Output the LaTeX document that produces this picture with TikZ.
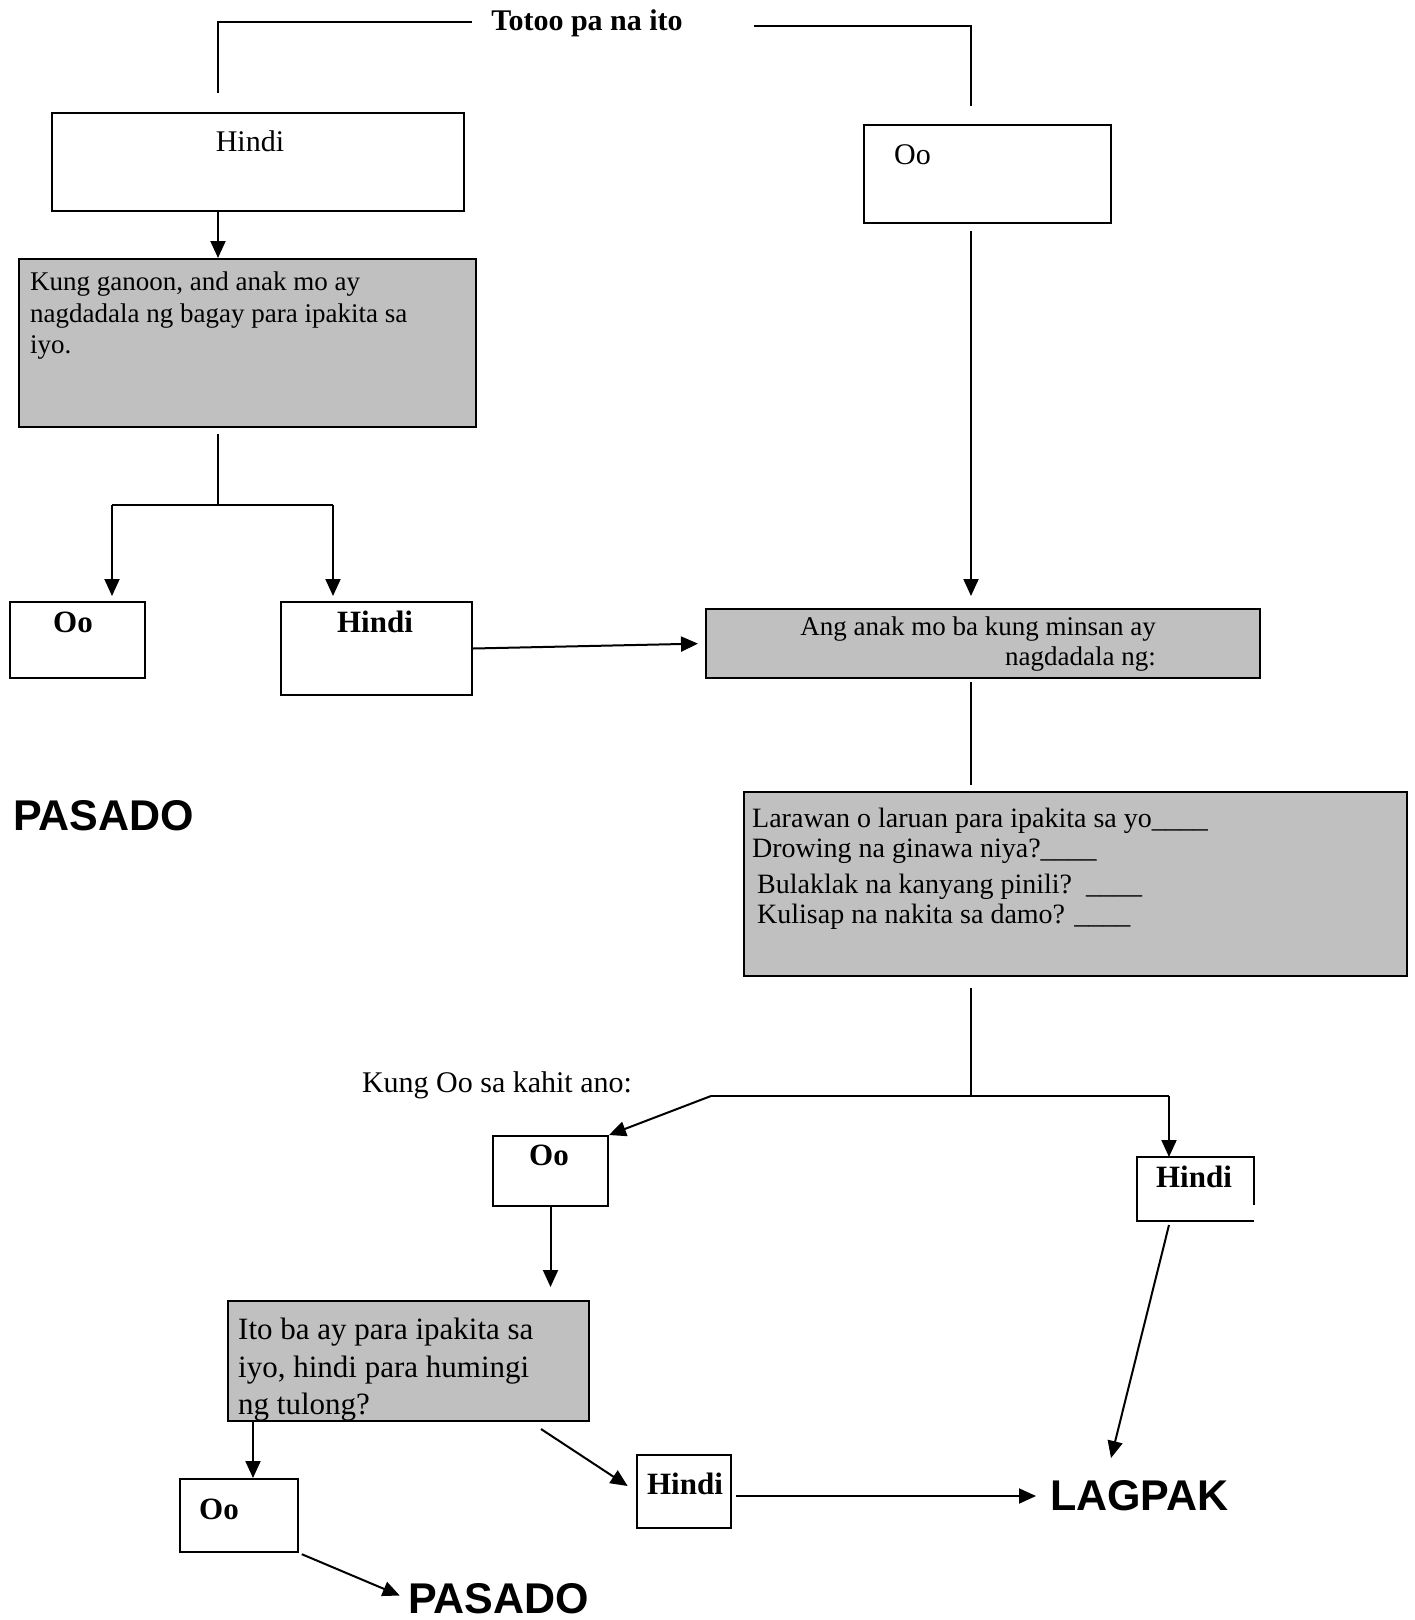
\documentclass[tikz,border=0pt]{standalone}
\usepackage{fontspec}
\setmainfont{Liberation Serif}
\setsansfont{Liberation Sans}
\usetikzlibrary{arrows.meta}
\definecolor{boxgray}{HTML}{C0C0C0}
\tikzset{
  box/.style={draw,line width=2pt,anchor=north west,inner sep=0pt},
  qbox/.style={box,fill=boxgray},
  link/.style={line width=2pt},
  arr/.style={link,-{Triangle[length=17pt,width=15pt]}},
  txt/.style={inner sep=0pt,font=\fontsize{30}{36}\selectfont},
  btxt/.style={inner sep=0pt,font=\bfseries\fontsize{31}{36}\selectfont},
  qtxt/.style={inner sep=0pt,align=left,anchor=north west},
  big/.style={inner sep=0pt,anchor=west,font=\sffamily\bfseries\fontsize{43}{48}\selectfont}
}
\begin{document}
\begin{tikzpicture}[x=1pt,y=-1pt]
  \useasboundingbox (0,0) rectangle (1415,1620);
  \node[btxt,font=\bfseries\fontsize{30}{36}\selectfont] (title) at (587,23) {Totoo pa na ito};
  \coordinate (tl) at (218,93);
  \coordinate (tr) at (971,106);
  \draw[line width=1.4pt] (472,22) -| (tl);
  \draw[line width=1.4pt] (754,26) -| (tr);

  \node[box,minimum width=412pt,minimum height=98pt] (hindiA) at (51,112) {};
  \node[txt] (hindiAt) at (250,141) {Hindi};
  \node[box,minimum width=247pt,minimum height=98pt] (ooA) at (863,124) {};
  \node[txt,anchor=west] (ooAt) at (894,155) {Oo};

  \node[qbox,minimum width=457pt,minimum height=168pt] (gA) at (18,258) {};
  \node[qtxt,font=\fontsize{27}{31.5}\selectfont] (gAt) at (30,272)
    {Kung ganoon, and anak mo ay\\nagdadala ng bagay para ipakita sa\\iyo.};
  \draw[arr] (hindiA.south -| tl) -- (gA.north -| tl);

  \coordinate (jA) at (218,505);
  \coordinate (jAl) at (112,505);
  \coordinate (jAr) at (333,505);
  \node[box,minimum width=135pt,minimum height=76pt] (ooB) at (9,601) {};
  \node[btxt] (ooBt) at (73,622) {Oo};
  \node[box,minimum width=191pt,minimum height=93pt] (hindiB) at (280,601) {};
  \node[btxt] (hindiBt) at (375,622) {Hindi};
  \draw[link] ([yshift=-6pt]gA.south -| jA) -- (jA);
  \draw[link] (jAl) -- (jAr);
  \draw[arr,shorten >=5pt] (jAl) -- (jAl |- ooB.north);
  \draw[arr,shorten >=5pt] (jAr) -- (jAr |- hindiB.north);

  \node[qbox,minimum width=554pt,minimum height=69pt] (gB) at (705,608) {};
  \node[qtxt,align=right,anchor=north east,font=\fontsize{27}{30}\selectfont] (gBt) at (1156,617)
    {Ang anak mo ba kung minsan ay\\nagdadala ng:};
  \draw[arr,shorten >=7pt] (hindiB.east) -- (gB.west);
  \draw[arr,shorten <=7pt,shorten >=12pt] (ooA.south -| tr) -- (gB.north -| tr);

  \node[big] (pasA) at (13,816) {PASADO};

  \node[qbox,minimum width=663pt,minimum height=184pt] (gC) at (743,791) {};
  \node[qtxt,font=\fontsize{28}{30}\selectfont] (gCt) at (752,808)
    {Larawan o laruan para ipakita sa yo\_\_\_\_\\Drowing na ginawa niya?\_\_\_\_\\[6pt]
     \hspace*{5pt}Bulaklak na kanyang pinili?\ \ \_\_\_\_\\\hspace*{5pt}Kulisap na nakita sa damo? \_\_\_\_};
  \draw[link,shorten <=3pt,shorten >=6pt] (gB.south -| tr) -- (gC.north -| tr);

  \coordinate (jC) at (971,1096);
  \coordinate (jCl) at (711,1096);
  \coordinate (jCr) at (1169,1096);
  \node[txt] (kung) at (497,1085) {Kung Oo sa kahit ano:};
  \node[box,minimum width=115pt,minimum height=70pt] (ooC) at (492,1135) {};
  \node[btxt] (ooCt) at (549,1155) {Oo};
  \node[box,draw=none,minimum width=115pt,minimum height=62pt] (hindiC) at (1137,1157) {};
  \draw[line width=2pt] ([yshift=-48pt]hindiC.north east) -- (hindiC.north east)
    -- (hindiC.north west) -- (hindiC.south west) -- (hindiC.south east);
  \node[btxt] (hindiCt) at (1194,1177) {Hindi};
  \draw[link,shorten <=11pt] (gC.south -| jC) -- (jC);
  \draw[link] (jCl) -- (jCr);
  \draw[arr] (jCl) -- (ooC.north east);
  \draw[arr] (jCr) -- (jCr |- hindiC.north);

  \node[qbox,minimum width=361pt,minimum height=120pt] (gD) at (227,1300) {};
  \node[qtxt,font=\fontsize{31}{37.5}\selectfont] (gDt) at (238,1318)
    {Ito ba ay para ipakita sa\\iyo, hindi para humingi\\ng tulong?};
  \draw[arr,shorten >=13pt] (ooC.south) -- (ooC.south |- gD.north);

  \coordinate (cD) at (253,1420);
  \coordinate (dS) at (541,1429);
  \node[box,minimum width=118pt,minimum height=73pt] (ooD) at (179,1478) {};
  \node[btxt] (ooDt) at (219,1509) {Oo};
  \node[box,minimum width=94pt,minimum height=73pt] (hindiD) at (636,1454) {};
  \node[btxt] (hindiDt) at (685,1484) {Hindi};
  \node[big] (lagpak) at (1050,1496) {LAGPAK};
  \node[big] (pasB) at (408,1599) {PASADO};
  \coordinate (hC) at (1169,1225);
  \coordinate (lT) at (1111,1458);
  \draw[arr] (cD) -- (ooD.north -| cD);
  \draw[arr,shorten >=10pt] (dS) -- (hindiD.west);
  \draw[arr,shorten <=4pt,shorten >=14pt] (hindiD.east |- lagpak) -- (lagpak.west);
  \draw[arr] (hC) -- (lT);
  \draw[arr,shorten <=3pt,shorten >=9pt] (ooD.south east) -- (pasB.west);
\end{tikzpicture}
\end{document}
